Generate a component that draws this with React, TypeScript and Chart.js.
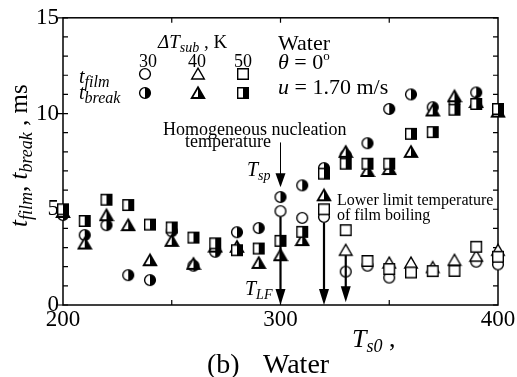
import React, { useEffect, useRef } from 'react';
import { Chart, registerables } from 'chart.js';

Chart.register(...registerables);

// ---------- data ----------
const temps = [200, 210, 220, 230, 240, 250, 260, 270, 280, 290, 300, 310, 320, 330, 340, 350, 360, 370, 380, 390, 400];
// t_break (half-filled markers)
const break30 = [4.7, 3.65, 4.17, 1.56, 1.3, 3.85, 2.05, 2.78, 3.8, 4.02, 5.64, 6.25, 7.15, 7.81, 8.45, 10.24, 11.0, 10.33, 10.6, 11.1, 10.16];
const break40 = [4.86, 3.21, 4.69, 4.17, 2.34, 3.35, 2.15, 3.05, 3.04, 2.2, 2.6, 3.39, 5.73, 8.0, 7.0, 7.1, 8.0, 10.16, 10.9, 10.6, 10.1];
const break50 = [5.0, 4.39, 5.5, 5.22, 4.2, 4.05, 3.52, 3.22, 2.86, 2.95, 3.35, 3.82, 6.86, 7.38, 7.38, 7.38, 8.94, 9.03, 10.2, 10.5, 10.24];
// t_film (open markers)
const filmTemps = [300, 310, 320, 330, 340, 350, 360, 370, 380, 390, 400];
const film30 = [4.9, 4.55, 4.6, 1.74, 2.05, 1.43, null, null, null, 2.26, 2.12];
const film40 = [null, null, null, 2.86, null, 2.2, 2.2, 1.96, 2.34, 2.55, 2.86];
const film50 = [null, null, 5.0, 3.91, 2.3, 1.88, 1.7, 1.77, 1.78, 3.04, 2.52];

const subLabels = ['30', '40', '50'];
const xTickStep = 100;
const yTickStep = 5;

// annotation arrows: [x, fromValue, toValue, lineWidth]
const arrowX = [300, 300, 320, 330];
const arrowFrom = [8.49, 4.6, 4.3, 2.6];
const arrowTo = [6.15, 0, 0, 0.15];
const arrowLW = [1, 2.2, 2.2, 2.2];

const SERIF = "'Liberation Serif', 'Times New Roman', serif";

type Shape = 'circle' | 'triangle' | 'rect';

function makeMarker(shape: Shape, half: boolean): HTMLCanvasElement {
  const size = 16;
  const c = document.createElement('canvas');
  c.width = size;
  c.height = size;
  const ctx = c.getContext('2d')!;
  const cx = size / 2;
  const cy = size / 2;
  const path = () => {
    ctx.beginPath();
    if (shape === 'circle') ctx.arc(cx, cy, 5.4, 0, Math.PI * 2);
    else if (shape === 'triangle') {
      ctx.moveTo(cx, cy - 5.8);
      ctx.lineTo(cx + 6.3, cy + 5.0);
      ctx.lineTo(cx - 6.3, cy + 5.0);
      ctx.closePath();
    } else ctx.rect(cx - 5.3, cy - 5.3, 10.6, 10.6);
  };
  path();
  ctx.fillStyle = '#fff';
  ctx.fill();
  if (half) {
    ctx.save();
    path();
    ctx.clip();
    ctx.fillStyle = '#000';
    ctx.fillRect(cx, 0, size, size);
    ctx.restore();
  }
  path();
  ctx.lineWidth = half && shape === 'triangle' ? 1.8 : 1.4;
  ctx.lineJoin = 'miter';
  ctx.strokeStyle = '#000';
  ctx.stroke();
  return c;
}

type Part = { t: string; s: number; i?: boolean; dy?: number };

function rich(ctx: CanvasRenderingContext2D, parts: Part[], x: number, y: number, align: 'left' | 'center' = 'left') {
  let total = 0;
  for (const p of parts) {
    ctx.font = `${p.i ? 'italic ' : ''}${p.s}px ${SERIF}`;
    total += ctx.measureText(p.t).width;
  }
  let cx = align === 'center' ? x - total / 2 : x;
  ctx.textAlign = 'left';
  ctx.textBaseline = 'alphabetic';
  ctx.fillStyle = '#000';
  for (const p of parts) {
    ctx.font = `${p.i ? 'italic ' : ''}${p.s}px ${SERIF}`;
    ctx.fillText(p.t, cx, y + (p.dy || 0));
    cx += ctx.measureText(p.t).width;
  }
}

function arrow(ctx: CanvasRenderingContext2D, x: number, y1: number, y2: number, lw: number) {
  const headLen = lw > 1.5 ? 16 : 14;
  const headW = 5;
  ctx.save();
  ctx.strokeStyle = '#000';
  ctx.fillStyle = '#000';
  ctx.lineWidth = lw;
  ctx.beginPath();
  ctx.moveTo(x, y1);
  ctx.lineTo(x, y2 - headLen + 2);
  ctx.stroke();
  ctx.beginPath();
  ctx.moveTo(x, y2);
  ctx.lineTo(x - headW, y2 - headLen);
  ctx.lineTo(x + headW, y2 - headLen);
  ctx.closePath();
  ctx.fill();
  ctx.restore();
}

export default function App() {
  const ref = useRef<HTMLCanvasElement | null>(null);

  useEffect(() => {
    if (!ref.current) return;
    const mk = {
      c0: makeMarker('circle', false),
      t0: makeMarker('triangle', false),
      r0: makeMarker('rect', false),
      c1: makeMarker('circle', true),
      t1: makeMarker('triangle', true),
      r1: makeMarker('rect', true),
    };

    const pts = (xs: number[], ys: (number | null)[]) =>
      xs.map((x, i) => ({ x, y: ys[i] })).filter((p) => p.y !== null) as { x: number; y: number }[];

    const annot = {
      id: 'annot',
      beforeDatasetsDraw(chart: any) {
        const ctx: CanvasRenderingContext2D = chart.ctx;
        const { left, right, top, bottom } = chart.chartArea;
        const xs = chart.scales.x;
        const ys = chart.scales.y;
        ctx.save();
        ctx.strokeStyle = '#000';
        ctx.lineWidth = 1.5;
        ctx.strokeRect(left, top, right - left, bottom - top);
        ctx.lineWidth = 1.2;
        ctx.beginPath();
        for (let v = 0; v <= 15; v++) {
          const y = ys.getPixelForValue(v);
          ctx.moveTo(left, y);
          ctx.lineTo(left + 5, y);
          ctx.moveTo(right - 5, y);
          ctx.lineTo(right, y);
          if (v % 5 === 0) {
            ctx.moveTo(left - 5, y);
            ctx.lineTo(left, y);
          }
        }
        for (let v = 250; v < 400; v += 50) {
          const x = xs.getPixelForValue(v);
          ctx.moveTo(x, top);
          ctx.lineTo(x, top + 5);
          ctx.moveTo(x, bottom - 5);
          ctx.lineTo(x, bottom);
        }
        ctx.stroke();
        ctx.restore();
      },
      afterDatasetsDraw(chart: any) {
        const ctx: CanvasRenderingContext2D = chart.ctx;
        const xs = chart.scales.x;
        const ys = chart.scales.y;
        ctx.save();
        for (let i = 0; i < arrowX.length; i++) {
          arrow(ctx, xs.getPixelForValue(arrowX[i]), ys.getPixelForValue(arrowFrom[i]), ys.getPixelForValue(arrowTo[i]), arrowLW[i]);
        }
        // Water block
        rich(ctx, [{ t: 'Water', s: 22 }], 278, 50);
        rich(ctx, [{ t: 'θ', s: 22, i: true }, { t: ' = 0', s: 22 }, { t: 'o', s: 13, dy: -9 }], 278, 69);
        rich(ctx, [{ t: 'u', s: 22, i: true }, { t: ' = 1.70 m/s', s: 22 }], 278, 94);
        // legend
        rich(ctx, [{ t: 'ΔT', s: 19, i: true }, { t: 'sub', s: 14, i: true, dy: 4 }, { t: ' , K', s: 19 }], 158, 48);
        const lx = [148, 197, 243];
        subLabels.forEach((s, i) => rich(ctx, [{ t: s, s: 18 }], lx[i], 67, 'center'));
        rich(ctx, [{ t: 't', s: 20, i: true }, { t: 'film', s: 16, i: true, dy: 4 }], 79, 83);
        rich(ctx, [{ t: 't', s: 20, i: true }, { t: 'break', s: 16, i: true, dy: 4 }], 79, 99);
        const rowA = [mk.c0, mk.t0, mk.r0];
        const rowB = [mk.c1, mk.t1, mk.r1];
        const mx = [145, 198, 243];
        rowA.forEach((m, i) => ctx.drawImage(m, mx[i] - 8, 74 - 8));
        rowB.forEach((m, i) => ctx.drawImage(m, mx[i] - 8, 93 - 8));
        // annotations
        rich(ctx, [{ t: 'Homogeneous nucleation', s: 18 }], 163, 135);
        rich(ctx, [{ t: 'temperature', s: 18 }], 185, 147);
        rich(ctx, [{ t: 'T', s: 20, i: true }, { t: 'sp', s: 14, i: true, dy: 4 }], 247, 176);
        rich(ctx, [{ t: 'T', s: 20, i: true }, { t: 'LF', s: 14, i: true, dy: 4 }], 245, 295);
        rich(ctx, [{ t: 'Lower limit temperature', s: 16 }], 337, 205);
        rich(ctx, [{ t: 'of film boiling', s: 16 }], 337, 220);
        // axis titles
        rich(ctx, [{ t: 'T', s: 26, i: true }, { t: 's0', s: 18, i: true, dy: 5 }, { t: ' ,', s: 26 }], 352, 347);
        rich(ctx, [{ t: '(b)', s: 28 }], 207, 373);
        rich(ctx, [{ t: 'Water', s: 28 }], 263, 373);
        ctx.save();
        ctx.translate(27, 227);
        ctx.rotate(-Math.PI / 2);
        rich(ctx, [
          { t: 't', s: 25, i: true },
          { t: 'film', s: 18, i: true, dy: 5 },
          { t: ', ', s: 25 },
          { t: 't', s: 25, i: true },
          { t: 'break', s: 18, i: true, dy: 5 },
          { t: ' , ms', s: 25 },
        ], 0, 0);
        ctx.restore();
        ctx.restore();
      },
    };

    const ds = (data: any, style: HTMLCanvasElement, order: number) => ({
      data,
      pointStyle: style,
      pointRadius: 5,
      showLine: false,
      clip: false as any,
      order,
    });

    const chart = new Chart(ref.current, {
      type: 'scatter',
      data: {
        datasets: [
          ds(pts(temps, break50), mk.r1, 1),
          ds(pts(temps, break40), mk.t1, 2),
          ds(pts(temps, break30), mk.c1, 3),
          ds(pts(filmTemps, film50), mk.r0, 4),
          ds(pts(filmTemps, film40), mk.t0, 5),
          ds(pts(filmTemps, film30), mk.c0, 6),
        ] as any,
      },
      options: {
        animation: false,
        responsive: false,
        events: [],
        layout: { padding: { left: 0, top: 17, right: 19, bottom: 0 } },
        plugins: { legend: { display: false }, tooltip: { enabled: false } },
        scales: {
          x: {
            type: 'linear',
            min: 200,
            max: 400,
            grid: { display: false, drawTicks: false },
            border: { display: false },
            ticks: { stepSize: xTickStep, padding: 1, color: '#000', font: { family: SERIF, size: 23 } },
            afterFit: (s: any) => {
              s.height = 72;
            },
          },
          y: {
            type: 'linear',
            min: 0,
            max: 15,
            grid: { display: false, drawTicks: false },
            border: { display: false },
            ticks: { stepSize: yTickStep, padding: 4, color: '#000', font: { family: SERIF, size: 23 } },
            afterFit: (s: any) => {
              s.width = 63;
            },
          },
        },
      },
      plugins: [annot],
    });
    return () => chart.destroy();
  }, []);

  return (
    <div style={{ position: 'absolute', left: 0, top: 0, width: 517, height: 377, background: '#fff' }}>
      <canvas ref={ref} width={517} height={377} style={{ display: 'block' }} />
    </div>
  );
}
